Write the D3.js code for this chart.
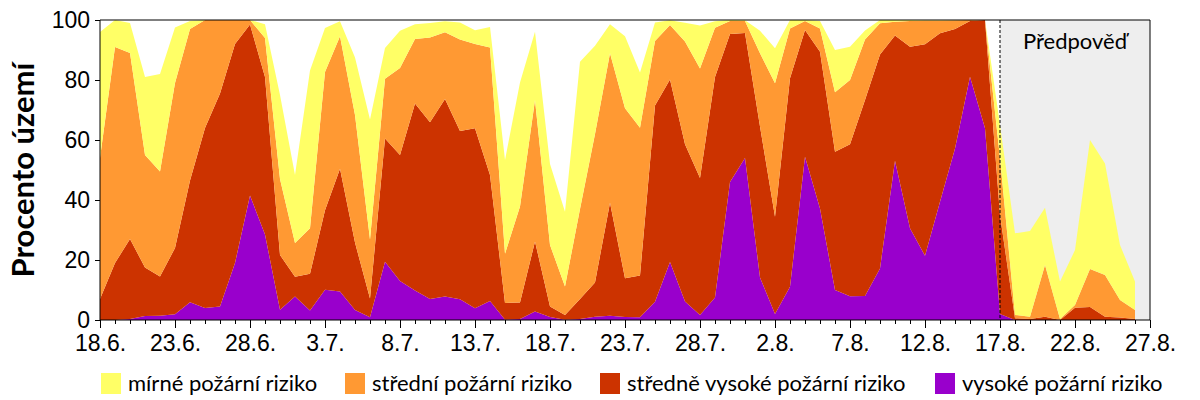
<!DOCTYPE html>
<html>
<head>
<meta charset="utf-8">
<script src="https://cdn.jsdelivr.net/npm/d3@7"></script>
<style>
  body { margin: 0; background: #fff; }
  svg { font-family: Lato, "Open Sans", sans-serif; }
</style>
</head>
<body>
<svg width="1200" height="400"></svg>
<script>
// days from 18.6. (index 0) to 26.8. (index 69), one value per day
const start = new Date(Date.UTC(2015, 5, 18));
const end = new Date(Date.UTC(2015, 7, 27));
const forecastStart = new Date(Date.UTC(2015, 7, 17));
const dates = d3.range(70).map(i => d3.utcDay.offset(start, i));

// percent of territory in each risk class
const vysoke = [0, 0, 0.3, 1.3, 1.4, 1.9, 5.9, 4, 4.5, 19,
  41.5, 28.5, 3.4, 7.8, 3.2, 10.1, 9.5, 3.3, 0.9, 19.4,
  13, 9.8, 7, 7.8, 6.9, 3.9, 6.3, 0.1, 0.3, 2.8,
  1, 0.1, 0.3, 1.1, 1.4, 1, 0.9, 6.1, 19.3, 6.2,
  1.7, 7.5, 46, 54, 14.2, 2, 11.1, 54.4, 37.2, 10,
  7.9, 8, 17.2, 53.1, 30.6, 21.4, 39.4, 57.2, 81.1, 63.9,
  2, 0, 0, 0, 0, 0, 0, 0, 0, 0];
const stredneVysoke = [7, 19, 26.7, 16.2, 13.1, 22.1, 40.6, 60, 71, 73,
  57, 52.5, 18.3, 6.6, 12.2, 26.5, 40.9, 22.5, 6.3, 41.1,
  42, 62.4, 58.9, 65.9, 56.1, 60, 42, 5.6, 5.5, 23.4,
  3.5, 1.6, 6.7, 11.4, 37.7, 12.9, 13.9, 65.4, 60.9, 52.4,
  45.6, 73.5, 49.3, 41.7, 50.3, 32.4, 69.5, 42.3, 52.2, 46.1,
  50.7, 65.3, 71.3, 41.7, 60.5, 70.5, 56.2, 39.8, 18.6, 36.1,
  33, 0.6, 0.3, 1.1, 0, 4.1, 4.3, 1.1, 0.8, 0.3];
const stredni = [47, 72, 62, 37.5, 35, 55, 50.5, 36, 24.5, 8,
  1.5, 13, 25.3, 11.3, 15.2, 46.1, 44.2, 42.5, 19.6, 19.9,
  29, 21.5, 28.3, 22.2, 30.5, 28.1, 42.5, 16.4, 32, 47.1,
  20.5, 9.5, 30, 49.5, 49.8, 56.7, 49.3, 21.5, 18.1, 34.2,
  36.5, 16.4, 4.4, 4, 24.4, 44.5, 16.6, 3, 7.8, 19.8,
  21.4, 20.2, 10.4, 4.6, 8.6, 7.9, 4.2, 2.9, 0.3, 0,
  19, 1.1, 0.8, 17.2, 0.3, 0.9, 12.7, 13.9, 5.9, 3];
const mirne = [42, 9, 10, 26, 32.5, 18.5, 2.7, 0, 0, 0,
  0, 4.6, 28, 22.6, 52.6, 14.6, 5, 19.2, 40, 10.3,
  12.4, 4.9, 4.8, 3.7, 5.7, 4.6, 6.9, 31.2, 41.4, 22.8,
  27, 24.9, 49.1, 29.4, 9.7, 24, 18.4, 6.2, 1.6, 6.3,
  14.4, 2.2, 0.3, 0.2, 7.5, 11.7, 2.8, 0.3, 2.5, 14.1,
  11.1, 3, 1.1, 0.6, 0.3, 0.2, 0.2, 0.1, 0, 0,
  11, 27.2, 28.6, 19.1, 12.5, 18.3, 43, 37.2, 18.3, 9.5];

const seriesNames = ["mírné požární riziko", "střední požární riziko",
  "středně vysoké požární riziko", "vysoké požární riziko"];
const yTicks = [0, 20, 40, 60, 80, 100];

const keys = ["vysoke", "stredneVysoke", "stredni", "mirne"];
const colors = { mirne: "#ffff66", stredni: "#ff9933", stredneVysoke: "#cc3300", vysoke: "#9900cc" };

const table = dates.map((d, i) => ({
  date: d,
  vysoke: vysoke[i],
  stredneVysoke: stredneVysoke[i],
  stredni: stredni[i],
  mirne: mirne[i]
}));

const svg = d3.select("svg");
const margin = { top: 20, right: 50, bottom: 80, left: 100 };
const width = 1200 - margin.left - margin.right;
const height = 400 - margin.top - margin.bottom;

const chart = svg.append("g")
  .attr("transform", `translate(${margin.left}, ${margin.top})`);

const x = d3.scaleUtc().domain([start, end]).range([0, width]);
const y = d3.scaleLinear().domain([0, 100]).range([height, 0]);

// forecast background
chart.append("rect")
  .attr("x", x(forecastStart))
  .attr("y", 0)
  .attr("width", width - x(forecastStart))
  .attr("height", height)
  .attr("fill", "#eeeeee");

const stack = d3.stack().keys(keys);
const layers = stack(table);

const area = d3.area()
  .x(d => x(d.data.date))
  .y0(d => y(d[0]))
  .y1(d => y(d[1]));

chart.selectAll(".layer")
  .data(layers)
  .enter().append("path")
  .attr("class", "layer")
  .attr("fill", d => colors[d.key])
  .attr("d", area);

// forecast divider
chart.append("line")
  .attr("x1", x(forecastStart))
  .attr("x2", x(forecastStart))
  .attr("y1", 0)
  .attr("y2", height)
  .attr("stroke", "#000")
  .attr("stroke-dasharray", "3,2");

chart.append("text")
  .attr("x", (x(forecastStart) + width) / 2)
  .attr("y", 29)
  .attr("text-anchor", "middle")
  .attr("font-size", 22)
  .text("Předpověď");

// frame
chart.append("path")
  .attr("d", `M0,0H${width}V${height}`)
  .attr("fill", "none")
  .attr("stroke", "#000");

// minor day ticks
chart.append("g")
  .attr("transform", `translate(0, ${height})`)
  .call(d3.axisBottom(x).tickValues(d3.utcDay.range(start, d3.utcDay.offset(end, 1))).tickSize(4).tickFormat(""))
  .call(g => g.select(".domain").remove());

// labelled ticks every 5 days
const xAxis = chart.append("g")
  .attr("transform", `translate(0, ${height})`)
  .call(d3.axisBottom(x)
    .tickValues(d3.utcDay.range(start, d3.utcDay.offset(end, 1), 5))
    .tickSize(8)
    .tickPadding(7)
    .tickFormat(d3.utcFormat("%-d.%-m.")));
xAxis.selectAll("text").attr("font-size", 23).attr("fill", "#000");
xAxis.select(".domain").attr("d", `M0,0H${width}`);

const yAxis = chart.append("g")
  .call(d3.axisLeft(y).tickValues(yTicks).tickSize(5).tickPadding(5));
yAxis.selectAll("text").attr("font-size", 23).attr("fill", "#000");
yAxis.select(".domain").attr("d", `M0,0V${height}`);

svg.append("text")
  .attr("transform", `translate(34, ${margin.top + height / 2}) rotate(-90)`)
  .attr("text-anchor", "middle")
  .attr("font-size", 31)
  .attr("font-weight", "bold")
  .text("Procento území");

// legend
const legendKeys = ["mirne", "stredni", "stredneVysoke", "vysoke"];
const legendX = [101, 345, 600, 935];
const legend = svg.append("g").attr("transform", "translate(0, 373)");
legendKeys.forEach((k, i) => {
  legend.append("rect")
    .attr("x", legendX[i])
    .attr("y", 0)
    .attr("width", 20)
    .attr("height", 21)
    .attr("fill", colors[k]);
  legend.append("text")
    .attr("x", legendX[i] + 27)
    .attr("y", 18)
    .attr("font-size", 22)
    .text(seriesNames[i]);
});
</script>
</body>
</html>
